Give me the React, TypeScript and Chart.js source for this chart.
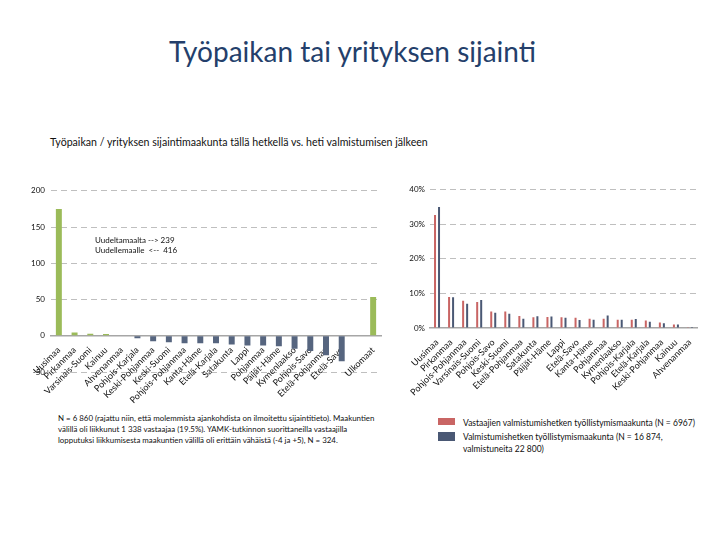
import React, { useEffect, useRef } from "react";
import { Chart, registerables } from "chart.js";

Chart.register(...registerables);

// ---------- Data ----------
const regionLabels = [
  "Uusimaa", "Pirkanmaa", "Varsinais-Suomi", "Kainuu", "Ahvenanmaa",
  "Pohjois-Karjala", "Keski-Pohjanmaa", "Keski-Suomi", "Pohjois-Pohjanmaa",
  "Kanta-Häme", "Etelä-Karjala", "Satakunta", "Lappi", "Pohjanmaa",
  "Päijät-Häme", "Kymenlaakso", "Pohjois-Savo", "Etelä-Pohjanmaa",
  "Etelä-Savo", "", "Ulkomaat",
];
const netMovement = [
  175, 4.5, 2.7, 2.5, 0, -3.6, -7.7, -9, -10.5, -10.5, -10.5, -12, -13.6,
  -13.6, -14.5, -18, -21, -27, -35, null, 53.6,
];
const netTicks = [-50, 0, 50, 100, 150, 200];

const shareLabels = [
  "Uusimaa", "Pirkanmaa", "Pohjois-Pohjanmaa", "Varsinais-Suomi",
  "Pohjois-Savo", "Keski-Suomi", "Etelä-Pohjanmaa", "Satakunta",
  "Päijät-Häme", "Lappi", "Etelä-Savo", "Kanta-Häme", "Pohjanmaa",
  "Kymenlaakso", "Pohjois-Karjala", "Etelä-Karjala", "Keski-Pohjanmaa",
  "Kainuu", "Ahvenanmaa",
];
const respondentsShare = [
  32.7, 9.0, 7.9, 7.5, 4.8, 4.8, 3.5, 3.1, 3.2, 3.1, 3.0, 2.7, 2.7, 2.4, 2.4,
  2.2, 1.6, 1.0, 0.1,
];
const allGraduatesShare = [
  35.0, 8.9, 7.0, 8.1, 4.4, 4.1, 2.7, 3.4, 3.3, 3.0, 2.3, 2.4, 3.6, 2.4, 2.6,
  1.8, 1.4, 1.0, 0.3,
];

const titleText = "Työpaikan tai yrityksen sijainti";
const subtitleText =
  "Työpaikan / yrityksen sijaintimaakunta tällä hetkellä vs. heti valmistumisen jälkeen";
const annotationLines = ["Uudeltamaalta --> 239", "Uudellemaalle  <--  416"];
const footnoteLines = [
  "N = 6 860 (rajattu niin, että molemmista ajankohdista on ilmoitettu sijaintitieto). Maakuntien",
  "välillä oli liikkunut 1 338 vastaajaa (19.5%). YAMK-tutkinnon suorittaneilla vastaajilla",
  "lopputuksi liikkumisesta maakuntien välillä oli erittäin vähäistä (-4 ja +5), N = 324.",
];
const legendRespondents = "Vastaajien valmistumishetken työllistymismaakunta (N = 6967)";
const legendAllLines = [
  "Valmistumishetken työllistymismaakunta (N = 16 874,",
  "valmistuneita 22 800)",
];

// ---------- Styles ----------
const FONT = "Lato, 'Open Sans', sans-serif";
const GREEN = "#9BBB59";
const SLATE = "#56657F";
const RED = "#C96564";
const DARK = "#4A5874";
const GRID = "#BFBFBF";
const TEXT = "#111";

function NetChart() {
  const ref = useRef<HTMLCanvasElement>(null);
  useEffect(() => {
    const chart = new Chart(ref.current!, {
      type: "bar",
      data: {
        labels: regionLabels,
        datasets: [
          {
            data: netMovement as any,
            backgroundColor: (c: any) => ((c.raw ?? 0) >= 0 ? GREEN : SLATE),
            categoryPercentage: 0.38,
            barPercentage: 1,
          },
        ],
      },
      options: {
        animation: false,
        responsive: true,
        maintainAspectRatio: false,
        layout: { padding: { top: 10, right: 9, bottom: 33, left: 0 } },
        plugins: { legend: { display: false }, tooltip: { enabled: false } },
        scales: {
          x: {
            position: { y: 0 } as any,
            grid: { display: false },
            border: { display: true, color: "#A6A6A6", width: 1.5 },
            ticks: {
              autoSkip: false,
              minRotation: 45,
              maxRotation: 45,
              padding: 1,
              color: TEXT,
              font: { family: FONT, size: 9 },
            },
          },
          y: {
            min: netTicks[0],
            max: netTicks[netTicks.length - 1],
            afterFit: (s: any) => {
              s.width = 31;
            },
            afterBuildTicks: (s: any) => {
              s.ticks = netTicks.map((v) => ({ value: v }));
            },
            grid: {
              color: (c: any) => (c.tick && c.tick.value === 0 ? "rgba(0,0,0,0)" : GRID),
              drawTicks: false,
            },
            border: { display: false, dash: [6, 4] },
            ticks: {
              padding: 6,
              color: TEXT,
              font: { family: FONT, size: 8 },
            },
          },
        },
      },
    });
    return () => chart.destroy();
  }, []);
  return (
    <div style={{ position: "absolute", left: 20, top: 180, width: 370, height: 225 }}>
      <canvas ref={ref} />
    </div>
  );
}

function ShareChart() {
  const ref = useRef<HTMLCanvasElement>(null);
  useEffect(() => {
    const chart = new Chart(ref.current!, {
      type: "bar",
      data: {
        labels: shareLabels,
        datasets: [
          {
            label: legendRespondents,
            data: respondentsShare,
            backgroundColor: RED,
            categoryPercentage: 0.57,
            barPercentage: 0.5,
          },
          {
            label: legendAllLines.join(" "),
            data: allGraduatesShare,
            backgroundColor: DARK,
            categoryPercentage: 0.57,
            barPercentage: 0.5,
          },
        ],
      },
      options: {
        animation: false,
        responsive: true,
        maintainAspectRatio: false,
        layout: { padding: { top: 9, right: 13, bottom: 77, left: 0 } },
        plugins: { legend: { display: false }, tooltip: { enabled: false } },
        scales: {
          x: {
            position: { y: 0 } as any,
            grid: { display: false },
            border: { display: true, color: "#A6A6A6", width: 1.5 },
            ticks: {
              autoSkip: false,
              minRotation: 45,
              maxRotation: 45,
              padding: 1,
              color: TEXT,
              font: { family: FONT, size: 9 },
            },
          },
          y: {
            min: 0,
            max: 40,
            afterFit: (s: any) => {
              s.width = 30;
            },
            grid: {
              color: (c: any) => (c.tick && c.tick.value === 0 ? "rgba(0,0,0,0)" : GRID),
              drawTicks: false,
            },
            border: { display: false, dash: [6, 4] },
            ticks: {
              stepSize: 10,
              padding: 5,
              color: TEXT,
              font: { family: FONT, size: 8 },
              callback: (v: any) => `${v}%`,
            },
          },
        },
      },
    });
    return () => chart.destroy();
  }, []);
  return (
    <div style={{ position: "absolute", left: 400, top: 180, width: 310, height: 225 }}>
      <canvas ref={ref} />
    </div>
  );
}

export default function App() {
  useEffect(() => {
    document.body.style.margin = "0";
  }, []);
  const small: React.CSSProperties = { fontFamily: FONT, color: "#111", position: "absolute", whiteSpace: "nowrap" };
  return (
    <div style={{ position: "fixed", left: 0, top: 0, width: 720, height: 540, background: "#fff", overflow: "hidden" }}>
      <div
        style={{
          ...small,
          left: 0,
          width: 705,
          top: 34,
          textAlign: "center",
          fontSize: 28,
          color: "#243F6B",
        }}
      >
        {titleText}
      </div>
      <div style={{ ...small, left: 50, top: 136, fontSize: 10.6 }}>{subtitleText}</div>
      <NetChart />
      <ShareChart />
      <div style={{ ...small, left: 95, top: 235, fontSize: 8, lineHeight: "10px" }}>
        {annotationLines.map((l, i) => (
          <div key={i} style={{ whiteSpace: "pre" }}>{l}</div>
        ))}
      </div>
      <div style={{ ...small, left: 58, top: 413, fontSize: 7.9, lineHeight: "11px" }}>
        {footnoteLines.map((l, i) => (
          <div key={i}>{l}</div>
        ))}
      </div>
      <div style={{ position: "absolute", left: 438, top: 418, width: 17, height: 7, background: RED }} />
      <div style={{ ...small, left: 463, top: 417.5, fontSize: 8.5, lineHeight: "10px" }}>{legendRespondents}</div>
      <div style={{ position: "absolute", left: 438, top: 432, width: 17, height: 9, background: DARK }} />
      <div style={{ ...small, left: 463, top: 430.7, fontSize: 8.5, lineHeight: "12px" }}>
        {legendAllLines.map((l, i) => (
          <div key={i}>{l}</div>
        ))}
      </div>
    </div>
  );
}
